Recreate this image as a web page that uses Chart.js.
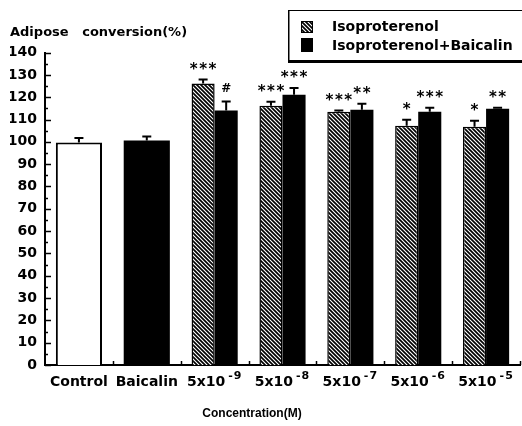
<!DOCTYPE html>
<html>
<head>
<meta charset="utf-8">
<style>
  body { margin: 0; background: #fff; }
  #wrap { width: 522px; height: 426px; }
</style>
</head>
<body>
<div id="wrap"><canvas id="chartAdipose"></canvas></div>
<script src="https://cdn.jsdelivr.net/npm/chart.js@4.4.6/dist/chart.umd.min.js"></script>
<script>
// valores
const categories = ['Control', 'Baicalin', '5x10', '5x10', '5x10', '5x10', '5x10'];
const exponents = ['', '', '-9', '-8', '-7', '-6', '-5'];

const isoValues = [99.7, null, 126.1, 116.2, 113.5, 107.2, 106.8];
const isoErrors = [2.0, null, 1.8, 1.8, 0.5, 2.7, 2.7];
const isoSig = ['', '', '***', '***', '***', '*', '*'];

const baiValues = [null, 100.6, 114.1, 121.1, 114.4, 113.5, 114.8];
const baiErrors = [null, 1.8, 4.0, 3.0, 2.7, 1.8, 0.5];
const baiSig = ['', '', '#', '***', '**', '***', '**'];

const yMin = 0, yMax = 140, yStep = 10, yMinorStep = 5;

const canvas = document.getElementById('chartAdipose');
const mainCtx = canvas.getContext('2d');

// trama diagonal para Isoproterenol
function makeHatch() {
  const c = document.createElement('canvas');
  c.width = 4; c.height = 4;
  const g = c.getContext('2d');
  g.fillStyle = '#fff';
  g.fillRect(0, 0, 4, 4);
  g.strokeStyle = '#000';
  g.lineWidth = 1.7;
  g.beginPath();
  g.moveTo(-1, -1); g.lineTo(5, 5);
  g.moveTo(-1, 3); g.lineTo(1, 5);
  g.moveTo(3, -1); g.lineTo(5, 1);
  g.stroke();
  return mainCtx.createPattern(c, 'repeat');
}
const hatch = makeHatch();

const extras = {
  id: 'extras',
  afterDatasetsDraw(chart) {
    const ctx = chart.ctx;
    const y = chart.scales.y;
    ctx.save();
    const sets = [[isoErrors, isoSig], [baiErrors, baiSig]];
    sets.forEach(([errs, sig], di) => {
      const meta = chart.getDatasetMeta(di);
      const vals = chart.data.datasets[di].data;
      meta.data.forEach((bar, i) => {
        if (vals[i] == null) return;
        const top = y.getPixelForValue(vals[i] + errs[i]);
        ctx.strokeStyle = '#000';
        ctx.lineWidth = 2;
        ctx.beginPath();
        ctx.moveTo(bar.x, bar.y);
        ctx.lineTo(bar.x, top);
        ctx.moveTo(bar.x - 4.5, top);
        ctx.lineTo(bar.x + 4.5, top);
        ctx.stroke();
        if (!sig[i]) return;
        const c = top - 14;
        ctx.fillStyle = '#000';
        ctx.textAlign = 'center';
        ctx.textBaseline = 'alphabetic';
        if (sig[i] === '#') {
          ctx.font = 'bold 12px "DejaVu Sans"';
          ctx.letterSpacing = '0px';
          ctx.fillText(sig[i], bar.x, c + 4.5);
        } else {
          ctx.font = 'bold 15px "DejaVu Sans"';
          ctx.letterSpacing = '1.5px';
          ctx.fillText(sig[i], bar.x + 0.75, c + 8);
        }
      });
    });
    ctx.restore();
  },
  afterDraw(chart) {
    const ctx = chart.ctx;
    const x = chart.scales.x, y = chart.scales.y;
    const area = chart.chartArea;
    ctx.save();
    ctx.strokeStyle = '#000';

    // marcas del eje y hacia dentro
    ctx.lineWidth = 1.5;
    for (let v = yMin; v <= yMax; v += yMinorStep) {
      const py = Math.round(y.getPixelForValue(v)) + 0.5;
      const len = v % yStep === 0 ? 6 : 3;
      ctx.beginPath();
      ctx.moveTo(area.left, py);
      ctx.lineTo(area.left + len, py);
      ctx.stroke();
    }
    // marcas del eje x entre grupos
    const half = (x.getPixelForValue(1) - x.getPixelForValue(0)) / 2;
    for (let i = 0; i < categories.length; i++) {
      const px = Math.round(x.getPixelForValue(i) + half) + 0.5;
      ctx.beginPath();
      ctx.moveTo(px, area.bottom);
      ctx.lineTo(px, area.bottom - 4);
      ctx.stroke();
    }

    // etiquetas de categoria con exponente
    ctx.fillStyle = '#000';
    ctx.textBaseline = 'middle';
    ctx.textAlign = 'left';
    categories.forEach((lab, i) => {
      const cx = x.getPixelForValue(i);
      ctx.font = 'bold 14px "DejaVu Sans"';
      ctx.letterSpacing = '0px';
      const wb = ctx.measureText(lab).width;
      let we = 0;
      if (exponents[i]) {
        ctx.font = 'bold 11px "DejaVu Sans"';
        ctx.letterSpacing = '1px';
        we = ctx.measureText(exponents[i]).width + 3;
      }
      const sx = cx - (wb + we) / 2;
      ctx.font = 'bold 14px "DejaVu Sans"';
      ctx.letterSpacing = '0px';
      ctx.fillText(lab, sx, 382);
      if (exponents[i]) {
        ctx.font = 'bold 11px "DejaVu Sans"';
        ctx.letterSpacing = '1px';
        ctx.fillText(exponents[i], sx + wb + 3, 376);
      }
    });
    ctx.letterSpacing = '0px';
    ctx.font = 'bold 12px "Liberation Sans"';
    ctx.textAlign = 'center';
    ctx.fillText('Concentration(M)', 252, 414);

    // leyenda
    const lx = 288, ly = 10, lb = 63;
    ctx.fillStyle = '#fff';
    ctx.fillRect(lx, ly, chart.width - lx, lb - ly);
    ctx.lineWidth = 1;
    ctx.beginPath();
    ctx.moveTo(lx, ly + 0.5); ctx.lineTo(chart.width, ly + 0.5);
    ctx.stroke();
    ctx.lineWidth = 1.5;
    ctx.beginPath();
    ctx.moveTo(lx + 0.75, ly); ctx.lineTo(lx + 0.75, lb);
    ctx.stroke();
    ctx.lineWidth = 3;
    ctx.beginPath();
    ctx.moveTo(lx, lb - 1.5); ctx.lineTo(chart.width, lb - 1.5);
    ctx.stroke();

    ctx.fillStyle = hatch;
    ctx.fillRect(301, 21, 12, 12);
    ctx.lineWidth = 1;
    ctx.strokeRect(301.5, 21.5, 11, 11);
    ctx.fillStyle = '#000';
    ctx.fillRect(301, 38, 12, 14);

    ctx.font = 'bold 14px "DejaVu Sans"';
    ctx.textAlign = 'left';
    ctx.textBaseline = 'middle';
    ctx.fillText(chart.data.datasets[0].label, 332, 27);
    ctx.fillText(chart.data.datasets[1].label, 332, 46);
    ctx.restore();
  }
};

new Chart(canvas, {
  type: 'bar',
  data: {
    labels: categories.map((c, i) => c + exponents[i]),
    datasets: [{
      label: 'Isoproterenol',
      data: isoValues,
      backgroundColor: isoValues.map((v, i) => i === 0 ? '#fff' : hatch),
      borderColor: '#000',
      borderWidth: isoValues.map((v, i) => i === 0 ? 2 : 1.5),
      borderSkipped: 'start'
    }, {
      label: 'Isoproterenol+Baicalin',
      data: baiValues,
      backgroundColor: '#000',
      borderColor: '#000',
      borderWidth: 0
    }]
  },
  options: {
    responsive: true,
    maintainAspectRatio: false,
    animation: false,
    devicePixelRatio: 1,
    layout: { padding: { left: 10, right: 2, top: 0, bottom: 0 } },
    datasets: {
      bar: { skipNull: true, categoryPercentage: 0.68, barPercentage: 1.0 }
    },
    plugins: {
      legend: { display: false },
      tooltip: { enabled: false },
      title: {
        display: true,
        text: 'Adipose   conversion(%)',
        align: 'start',
        color: '#000',
        font: { family: 'DejaVu Sans', weight: 'bold', size: 13 },
        padding: { top: 25, bottom: 12 }
      }
    },
    scales: {
      x: {
        ticks: { display: false },
        grid: { display: false },
        border: { display: true, color: '#000', width: 2 },
        afterFit: (s) => { s.height = 61; }
      },
      y: {
        min: yMin,
        max: yMax,
        ticks: {
          stepSize: yStep,
          color: '#000',
          padding: 8,
          font: { family: 'DejaVu Sans', weight: 'bold', size: 14 }
        },
        grid: { display: false, drawTicks: false },
        border: { display: true, color: '#000', width: 2 },
        afterFit: (s) => { s.width = 35; }
      }
    }
  },
  plugins: [extras]
});
</script>
</body>
</html>
